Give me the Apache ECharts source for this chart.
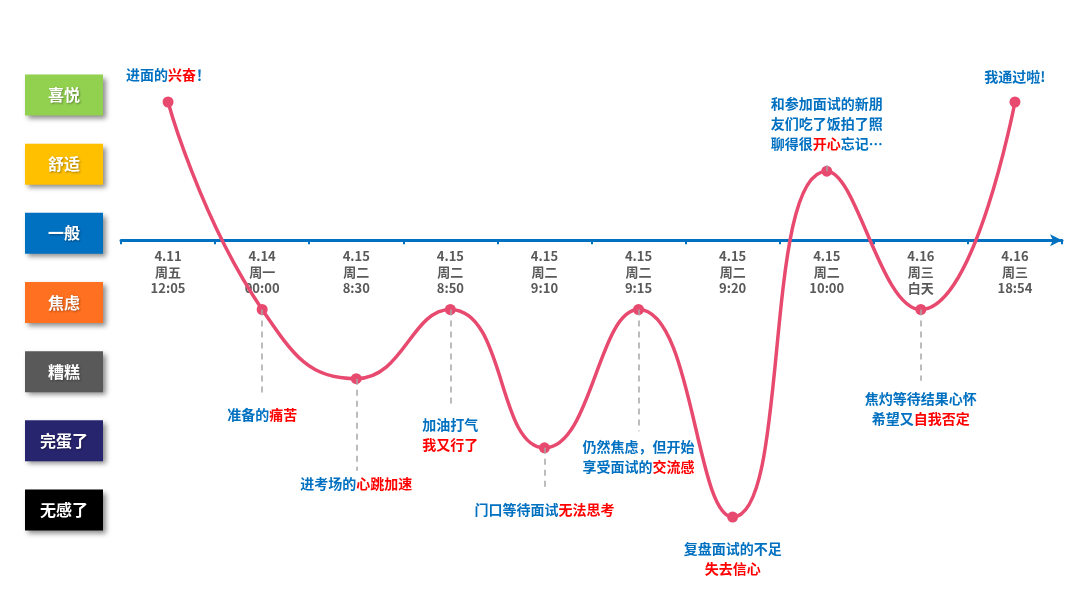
<!DOCTYPE html>
<html><head><meta charset="utf-8">
<script src="https://cdn.jsdelivr.net/npm/echarts@6/dist/echarts.min.js"></script>
<style>html,body{margin:0;padding:0;background:#fff}#c{width:1080px;height:596px}</style>
</head><body><div id="c"></div>
<script>
// ---- data ----
const dates = ['4.11','4.14','4.15','4.15','4.15','4.15','4.15','4.15','4.16','4.16'];
const weekdays = ['周五','周一','周二','周二','周二','周二','周二','周二','周三','周三'];
const times = ['12:05','00:00','8:30','8:50','9:10','9:15','9:20','10:00','白天','18:54'];
const moodValues = [2, -1, -2, -1, -3, -1, -4, 1, -1, 2];
const moodLevels = ['无感了','完蛋了','糟糕','焦虑','一般','舒适','喜悦']; // values -4 .. 2
const notes = [
  '{b|进面的}{r|兴奋}{b|！}',
  '{b|准备的}{r|痛苦}',
  '{b|进考场的}{r|心跳加速}',
  '{b|加油打气}\n{r|我又行了}',
  '{b|门口等待面试}{r|无法思考}',
  '{b|仍然焦虑，但开始}\n{b|享受面试的}{r|交流感}',
  '{b|复盘面试的不足}\n{r|失去信心}',
  '{b|和参加面试的新朋}\n{b|友们吃了饭拍了照}\n{b|聊得很}{r|开心}{b|忘记…}',
  '{b|焦灼等待结果心怀}\n{b|希望又}{r|自我否定}',
  '{b|我通过啦!}'
];

// ---- layout / style (kept apart from data) ----
const levelColors = ['#000000','#28256F','#595959','#FF7020','#0070C0','#FFC000','#92D050'];
const labelPosition = ['top','bottom','bottom','bottom','bottom','bottom','bottom','top','bottom','top'];
const labelDistance = [12, 90, 90, 100, 46, 122, 16, 12, 74, 10];
const leadLength = [0, 1.2, 1.33, 1.43, 0.58, 1.76, 0.26, -0.13, 1.03, 0];

const categories = dates.map((d, i) => d + '\n' + weekdays[i] + '\n' + times[i]);
const FONT = '"Noto Sans CJK SC","Noto Sans",sans-serif';

const GRID_TOP = 102, GRID_BOTTOM = 79, CHART_H = 596;
const Y_MIN = -4, Y_MAX = 2;
const gridH = CHART_H - GRID_TOP - GRID_BOTTOM;
// move the x axis (line + labels) up to the value-0 level
const xAxisOffset = -gridH * (0 - Y_MIN) / (Y_MAX - Y_MIN);

const boxRich = {};
levelColors.forEach((c, i) => {
  boxRich['c' + i] = {
    width: 78, height: 41, lineHeight: 41, align: 'center',
    backgroundColor: c, color: '#fff', fontSize: 16, fontWeight: 'bold', fontFamily: FONT,
    shadowBlur: 5, shadowOffsetX: 3, shadowOffsetY: 3, shadowColor: 'rgba(0,0,0,0.45)',
    textShadowColor: 'rgba(0,0,0,0.35)', textShadowBlur: 2, textShadowOffsetX: 1, textShadowOffsetY: 1
  };
});

const seriesData = moodValues.map((v, i) => ({
  value: v,
  label: { position: labelPosition[i], distance: labelDistance[i], formatter: notes[i] }
}));

const leadLines = [];
moodValues.forEach((v, i) => {
  if (leadLength[i] !== 0) {
    leadLines.push([{ coord: [categories[i], v] }, { coord: [categories[i], v - leadLength[i]] }]);
  }
});

const chart = echarts.init(document.getElementById('c'));
chart.setOption({
  animation: false,
  backgroundColor: '#fff',
  grid: { left: 121, right: 18, top: GRID_TOP, bottom: GRID_BOTTOM },
  xAxis: {
    type: 'category',
    data: categories,
    boundaryGap: true,
    position: 'bottom',
    offset: xAxisOffset,
    axisLine: {
      onZero: false,
      symbol: ['none', 'arrow'], symbolSize: [9, 12],
      lineStyle: { color: '#0070C0', width: 3 }
    },
    axisTick: { show: true, length: 4, lineStyle: { color: '#0070C0', width: 2 } },
    axisLabel: {
      margin: 8, color: '#595959', fontSize: 13, lineHeight: 16,
      fontWeight: 'bold', fontFamily: FONT, interval: 0
    },
    splitLine: { show: false }
  },
  yAxis: {
    type: 'value', min: Y_MIN, max: Y_MAX, interval: 1,
    axisLine: { show: false }, axisTick: { show: false }, splitLine: { show: false },
    axisLabel: {
      margin: 18,
      padding: [0, 0, 14, 0],
      formatter: v => {
        const idx = Math.round(v) - Y_MIN;
        return '{c' + idx + '|' + moodLevels[idx] + '}';
      },
      rich: boxRich
    }
  },
  series: [{
    type: 'line',
    data: seriesData,
    smooth: 0.5,
    symbol: 'circle',
    symbolSize: 11,
    lineStyle: { color: '#E84A6F', width: 3.5 },
    itemStyle: { color: '#E84A6F' },
    label: {
      show: true, align: 'center',
      fontFamily: FONT, fontSize: 14, fontWeight: 'bold', lineHeight: 20, color: '#0070C0',
      rich: {
        b: { color: '#0070C0', fontFamily: FONT, fontSize: 14, fontWeight: 'bold', lineHeight: 20 },
        r: { color: '#FF0000', fontFamily: FONT, fontSize: 14, fontWeight: 'bold', lineHeight: 20 }
      }
    },
    markLine: {
      silent: true, symbol: ['none', 'none'],
      label: { show: false },
      lineStyle: { type: [6, 5], color: '#A6A6A6', width: 1.5 },
      data: leadLines
    },
    z: 3
  }]
});
</script>
</body></html>
